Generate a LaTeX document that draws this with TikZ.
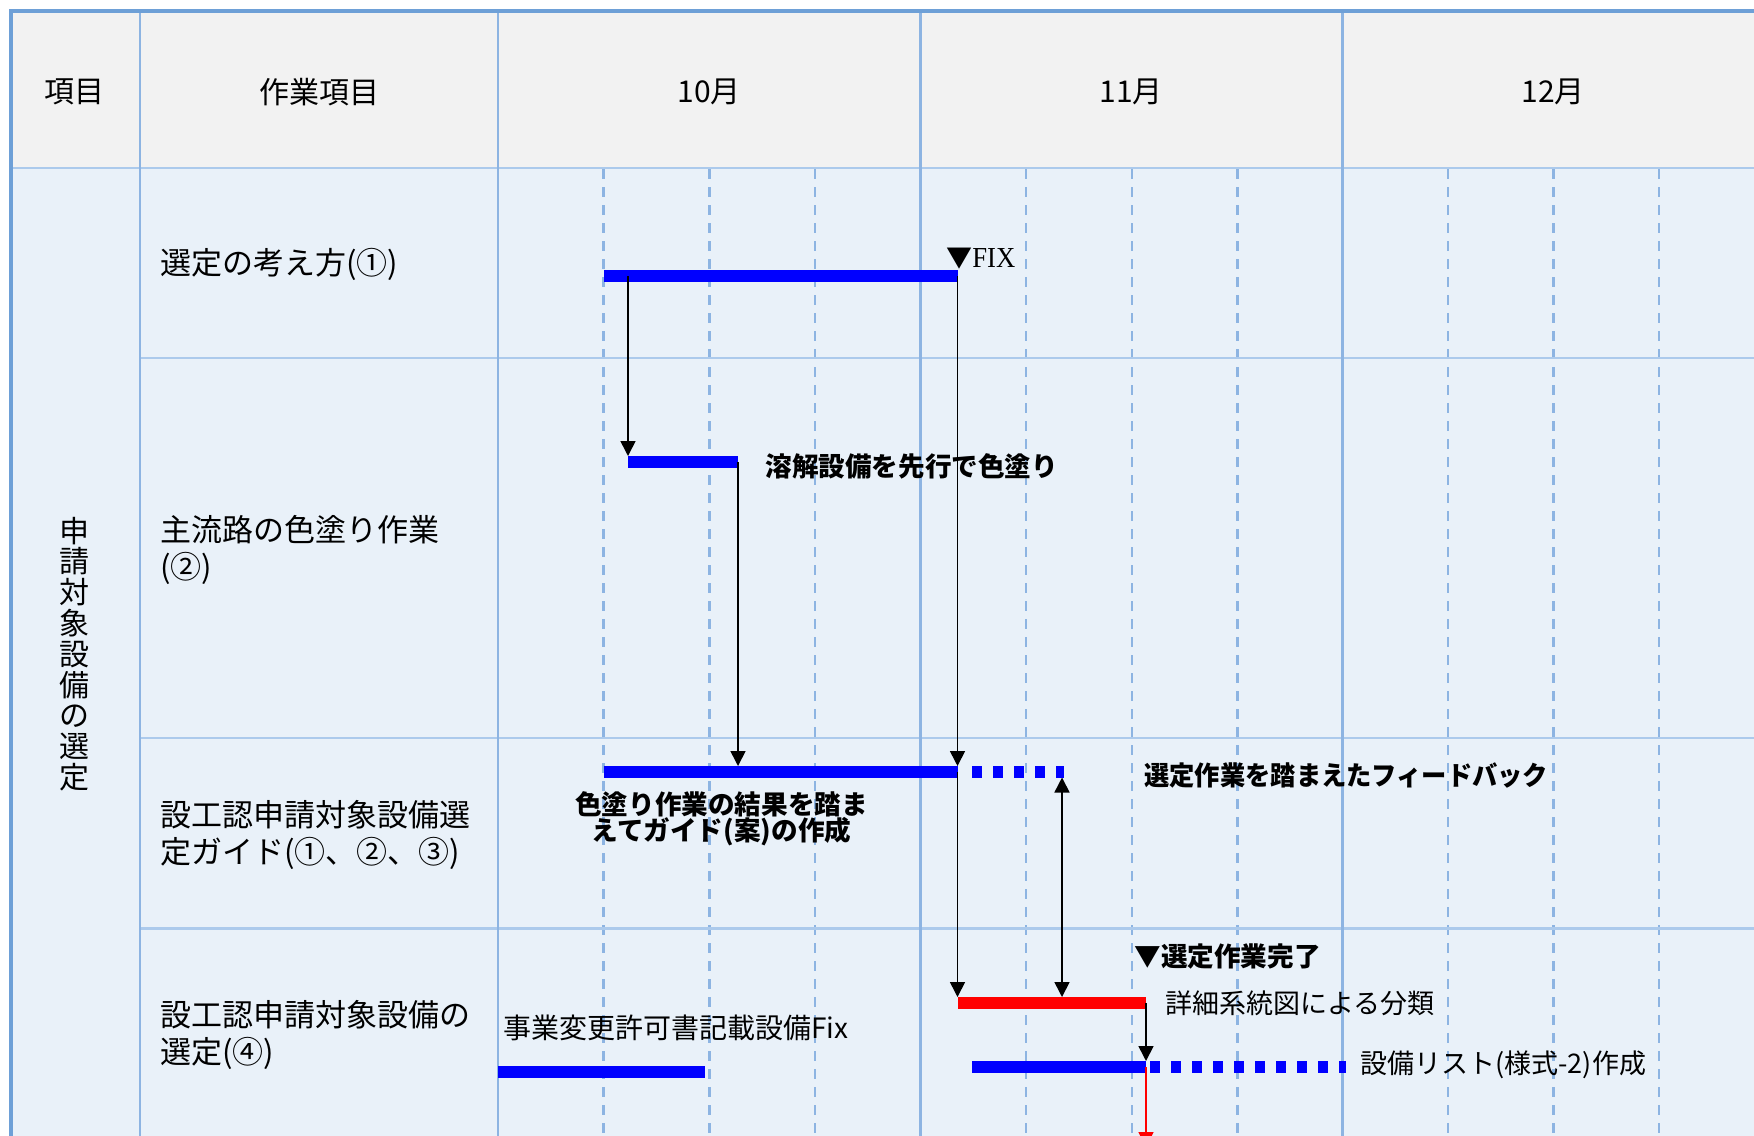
\documentclass[tikz,border=0pt]{standalone}
\usepackage{fontspec}
\setmainfont{Noto Sans CJK JP}
\newfontfamily\serifx{Liberation Serif}
\usetikzlibrary{arrows.meta}
\definecolor{hdr}{RGB}{242,242,242}
\definecolor{bodyc}{RGB}{233,241,249}
\definecolor{outerc}{RGB}{110,160,215}
\definecolor{colc}{RGB}{141,180,226}
\definecolor{rowc}{RGB}{172,202,236}
\definecolor{barblue}{RGB}{0,0,255}
\definecolor{barred}{RGB}{255,0,0}
\tikzset{
  wk/.style={colc,line width=1.2pt,dash pattern=on 5pt off 4pt},
  rowl/.style={rowc,line width=1.4pt},
  coll/.style={colc,line width=1.3pt},
  outerl/.style={outerc,line width=1.8pt},
  bar/.style={line width=5.8pt,line cap=butt},
  dotbar/.style={line width=5.8pt,line cap=butt,dash pattern=on 5pt off 5.5pt},
  arr/.style={black,line width=0.8pt,-{Triangle[length=7.5pt,width=7.5pt]}},
  darr/.style={black,line width=0.8pt,{Triangle[length=7.5pt,width=7.5pt]}-{Triangle[length=7.5pt,width=7.5pt]}},
  hd/.style={inner sep=0pt,font=\fontsize{15}{18}\selectfont},
  lbl/.style={inner sep=0pt,anchor=west,align=left,font=\fontsize{15.5}{18.5}\selectfont},
  note/.style={inner sep=0pt,anchor=west,font=\fontsize{13.5}{13.5}\selectfont},
  bnote/.style={inner sep=0pt,anchor=west,font=\fontsize{13.3}{13}\selectfont\bfseries},
}
\begin{document}
\begin{tikzpicture}[x=0.5pt,y=-0.5pt]
\clip (0,0) rectangle (1754,1135);
\fill[white] (0,0) rectangle (1754,1135);
\fill[hdr] (11,11) rectangle (1800,168);
\fill[bodyc] (11,168) rectangle (1800,1200);
% weekly dashed lines
\foreach \x in {603.6,709.3,814.9,1026.2,1131.8,1237.4,1447.9,1553.5,1659.1}
  \draw[wk] (\x,169) -- (\x,1200);
% row lines
\foreach \y in {358,738,928.5}
  \draw[rowl] (140,\y) -- (1800,\y);
\draw[rowl] (11,168) -- (1800,168);
% column lines
\foreach \x in {140,498,920.6,1342.3}
  \draw[coll] (\x,11) -- (\x,1200);
\draw[outerl] (1800,11) -- (11,11) -- (11,1200);

% header texts
\node[hd] (h1) at (74,92) {項目};
\node[hd] (h2) at (319,92) {作業項目};
\node[hd] (h3) at (709,92) {10月};
\node[hd] (h4) at (1131,92) {11月};
\node[hd] (h5) at (1553,92) {12月};

% category (vertical text)
\node[inner sep=0pt,align=center,font=\fontsize{15}{15.4}\selectfont] (cat) at (74.5,654)
  {申\\請\\対\\象\\設\\備\\の\\選\\定};

% row labels
\node[lbl] (r1) at (160,264) {選定の考え方(①)};
\node[lbl] (r2) at (160,550) {主流路の色塗り作業\\(②)};
\node[lbl] (r3) at (160,835) {設工認申請対象設備選\\定ガイド(①、②、③)};
\node[lbl] (r4) at (160,1035) {設工認申請対象設備の\\選定(④)};

% bar coordinates
\coordinate (b1s) at (604,276);
\coordinate (b1a) at (628,276);
\coordinate (b1e) at (957.5,276);
\coordinate (b2s) at (628,462);
\coordinate (b2e) at (738,462);
\coordinate (b2top) at (628,456);
\coordinate (b3s) at (604,772);
\coordinate (b3a) at (738,766);
\coordinate (b3top) at (957.5,766);
\coordinate (b3e) at (957.5,772);
\coordinate (b3ds) at (972,772);
\coordinate (b3de) at (1064,772);
\coordinate (b3fb) at (1062,777.5);
\coordinate (rs) at (957.5,1003);
\coordinate (rtop) at (957.5,997);
\coordinate (rfb) at (1062,997);
\coordinate (re) at (1146,1003);
\coordinate (b4s) at (972,1067);
\coordinate (b4e) at (1146,1067);
\coordinate (b4top) at (1146,1061);
\coordinate (b4ds) at (1150,1067);
\coordinate (b4de) at (1346,1067);
\coordinate (b5s) at (498,1071.7);
\coordinate (b5e) at (705,1071.7);
\coordinate (redend) at (1146,1147);

% bars
\draw[bar,barblue] (b1s) -- (b1e);
\draw[bar,barblue] (b2s) -- (b2e);
\draw[bar,barblue] (b3s) -- (b3e);
\draw[dotbar,barblue] (b3ds) -- (b3de);
\draw[bar,barred] (rs) -- (re);
\draw[bar,barblue] (b4s) -- (b4e);
\draw[dotbar,barblue] (b4ds) -- (b4de);
\draw[bar,barblue] (b5s) -- (b5e);

% arrows
\draw[arr] (b1a) -- (b2top);
\draw[arr] (b2e) -- (b3a);
\draw[arr] (b1e) -- (b3top);
\draw[arr] (b3e) -- (rtop);
\draw[darr] (b3fb) -- (rfb);
\draw[arr] (re) -- (b4top);
\draw[barred,line width=0.8pt,-{Triangle[length=7.5pt,width=7.5pt]}] (b4e) -- (redend);

% annotations
\node[inner sep=0pt,anchor=west] (fix) at (946,259)
  {{\fontsize{13}{13}\selectfont ▼}{\serifx\fontsize{14.5}{14.5}\selectfont\scalebox{0.92}[1]{FIX}}};
\node[bnote] (n1) at (765,466) {溶解設備を先行で色塗り};
\node[inner sep=0pt,align=center,font=\fontsize{13.3}{13}\selectfont\bfseries] (n2) at (721.5,819)
  {色塗り作業の結果を踏ま\\えてガイド(案)の作成};
\node[bnote] (n3) at (1144,775) {\scalebox{0.95}[1]{選定作業を踏まえたフィードバック}};
\node[bnote] (n4) at (1134,956) {▼選定作業完了};
\node[note] (n5) at (1165,1003) {詳細系統図による分類};
\node[note] (n6) at (1360,1065) {設備リスト(様式-2)作成};
\node[inner sep=0pt,anchor=west,font=\fontsize{14}{14}\selectfont] (n7) at (503,1028) {事業変更許可書記載設備Fix};
\end{tikzpicture}
\end{document}
